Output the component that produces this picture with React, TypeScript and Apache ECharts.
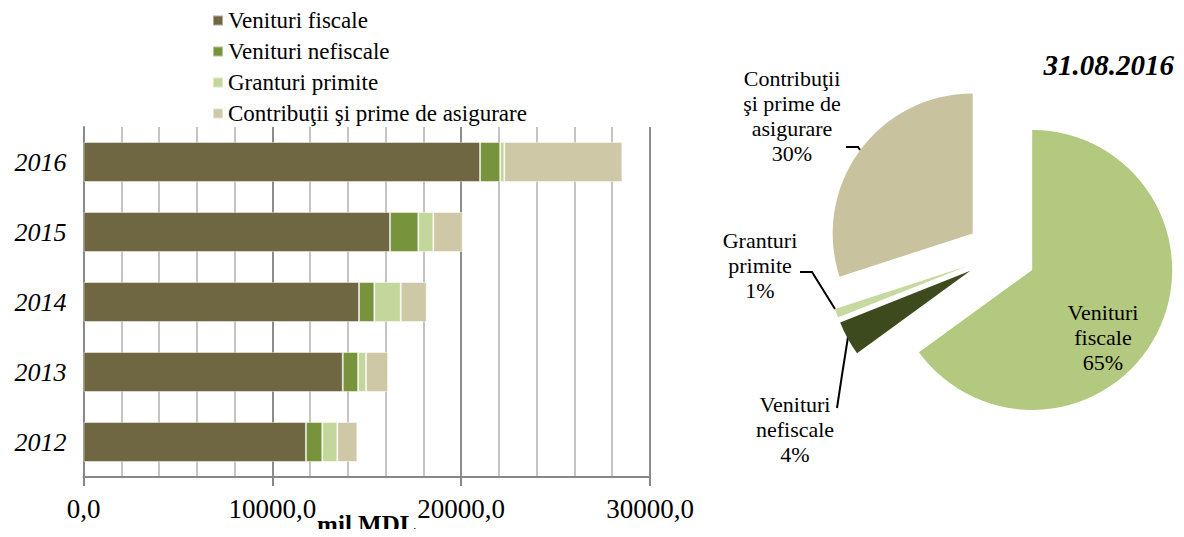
import React, { useEffect, useRef } from "react";
import * as echarts from "echarts";

const years = ["2012", "2013", "2014", "2015", "2016"];
const seriesNames = [
  "Venituri fiscale",
  "Venituri nefiscale",
  "Granturi primite",
  "Contribuţii şi prime de asigurare",
];
const venituriFiscale = [11780, 13730, 14590, 16230, 21000];
const venituriNefiscale = [865, 810, 810, 1500, 1060];
const granturiPrimite = [795, 425, 1400, 795, 225];
const contributii = [1060, 1165, 1375, 1555, 6250];
const barColors = ["#6E6741", "#77933C", "#C3D69B", "#CFC8A6"];

const pieTitle = "31.08.2016";
const pieLabels = [
  "Venituri\nfiscale",
  "Venituri\nnefiscale",
  "Granturi\nprimite",
  "Contribuţii\nşi prime de\nasigurare",
];
const pieValues = [65, 4, 1, 30];
const pieColors = ["#B3C97F", "#3C4A1E", "#C6D9A0", "#C8C29E"];

const xTicks = { min: 0, max: 30000, interval: 10000 };

const FONT = "'Liberation Serif', 'Times New Roman', serif";

export default function App() {
  const ref = useRef<HTMLDivElement>(null);
  useEffect(() => {
    if (!ref.current) return;
    const chart = echarts.init(ref.current, null, { renderer: "svg" });
    const barData = [venituriFiscale, venituriNefiscale, granturiPrimite, contributii];

    // pie layout (exploded slices)
    const pieCenter = [1001, 254];
    const pieRadius = 140;
    const explode = 35;
    const total = pieValues.reduce((a, b) => a + b, 0);
    let cum = 0;
    const mids = pieValues.map((v) => {
      const m = ((cum + v / 2) / total) * Math.PI * 2;
      cum += v;
      return m;
    });

    // label placement for the pie (layout only)
    const pieLabelPos: any[] = [
      { x: 1103, y: 337, line: null },
      { x: 795, y: 429, line: [[848, 337], [842, 375], [837, 408]] },
      { x: 760, y: 265, line: [[835, 309], [812, 272], [800, 272]] },
      { x: 792, y: 116, line: [[860, 150], [858, 147], [846, 147]] },
    ];

    const pieSeries = pieValues.map((_, k) => ({
      type: "pie",
      name: "pie" + k,
      center: [
        pieCenter[0] + explode * Math.sin(mids[k]),
        pieCenter[1] - explode * Math.cos(mids[k]),
      ],
      radius: pieRadius,
      startAngle: 90,
      clockwise: true,
      selectedMode: false,
      silent: true,
      emphasis: { disabled: true },
      avoidLabelOverlap: false,
      data: pieValues.map((v, i) => ({
        value: v,
        name: pieLabels[i],
        itemStyle: { color: i === k ? pieColors[i] : "rgba(0,0,0,0)" },
        label: { show: i === k },
        labelLine: { show: i === k && k !== 0 },
      })),
      label: {
        formatter: (p: any) => `${p.name}\n${p.percent.toFixed(0)}%`,
        fontFamily: FONT,
        fontSize: 22,
        lineHeight: 25,
        color: "#000",
        align: "center",
      },
      labelLine: { lineStyle: { color: "#000", width: 2 } },
      labelLayout: (p: any) => {
        const pos = pieLabelPos[p.dataIndex];
        const r: any = { x: pos.x, y: pos.y, align: "center", verticalAlign: "middle" };
        if (pos.line) r.labelLinePoints = pos.line;
        return r;
      },
    }));

    chart.setOption({
      animation: false,
      textStyle: { fontFamily: FONT },
      title: {
        text: pieTitle,
        right: 5,
        top: 45,
        textStyle: {
          fontFamily: FONT,
          fontSize: 29,
          fontStyle: "italic",
          fontWeight: "bold",
          color: "#000",
        },
      },
      legend: {
        data: seriesNames,
        orient: "vertical",
        left: 207,
        top: 0,
        itemWidth: 10,
        itemHeight: 10,
        itemGap: 0,
        icon: "rect",
        selectedMode: false,
        textStyle: { fontFamily: FONT, fontSize: 23, lineHeight: 31, color: "#000" },
      },
      grid: {
        left: 83.5,
        right: 534,
        top: 127,
        bottom: 60,
        containLabel: false,
        outerBoundsMode: "none",
      },
      xAxis: {
        type: "value",
        min: xTicks.min,
        max: xTicks.max,
        interval: xTicks.interval,
        name: "mil.MDL",
        nameLocation: "middle",
        nameGap: 35,
        nameMoveOverlap: false,
        nameTextStyle: {
          fontFamily: FONT,
          fontSize: 25,
          fontWeight: "bold",
          color: "#000",
          verticalAlign: "top",
        },
        axisLine: { show: true, lineStyle: { color: "#888", width: 2 } },
        axisTick: { show: true, length: 9, lineStyle: { color: "#888", width: 2 } },
        axisLabel: {
          fontFamily: FONT,
          fontSize: 27,
          color: "#000",
          margin: 18,
          formatter: (v: number) => v.toFixed(1).replace(".", ","),
        },
        splitLine: { show: true, lineStyle: { color: "#8c8c8c", width: 2 } },
        minorTick: { show: false, splitNumber: 5 },
        minorSplitLine: { show: true, lineStyle: { color: "#c4c4c4", width: 2 } },
      },
      yAxis: {
        type: "category",
        data: years,
        axisLine: { show: true, lineStyle: { color: "#888", width: 2 } },
        axisTick: { show: false },
        axisLabel: {
          fontFamily: FONT,
          fontSize: 26,
          fontStyle: "italic",
          color: "#000",
          margin: 17,
        },
      },
      series: [
        ...seriesNames.map((name, i) => ({
          type: "bar",
          name,
          stack: "total",
          barWidth: 40,
          data: barData[i],
          itemStyle: {
            color: barColors[i],
            borderColor: "rgba(255,255,255,0.45)",
            borderWidth: 1,
          },
          emphasis: { disabled: true },
        })),
        ...pieSeries,
      ],
    });
    return () => chart.dispose();
  }, []);
  return <div ref={ref} style={{ width: 1184, height: 537, margin: -8 }} />;
}
